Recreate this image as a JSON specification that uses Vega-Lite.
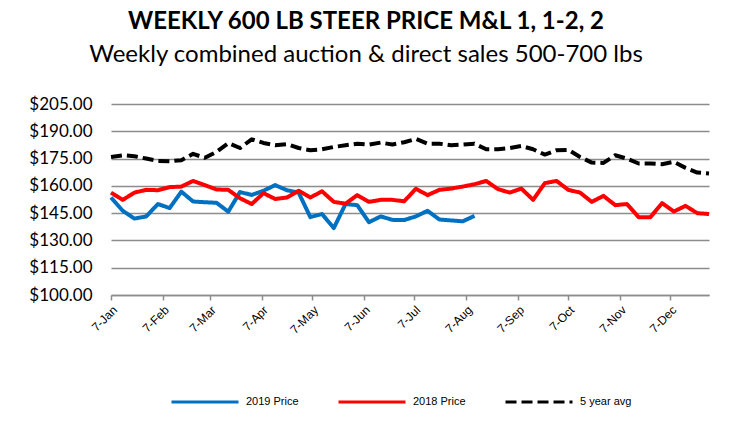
{
  "$schema": "https://vega.github.io/schema/vega-lite/v6.json",
  "autosize": "none",
  "width": 598,
  "height": 191,
  "padding": {"left": 111, "top": 104, "right": 34, "bottom": 132},
  "background": "white",
  "title": {
    "text": "WEEKLY 600 LB STEER PRICE M&L 1, 1-2, 2",
    "subtitle": "Weekly combined auction & direct sales 500-700 lbs",
    "anchor": "middle",
    "frame": "group",
    "dx": -44,
    "offset": 28,
    "font": "Lato",
    "fontSize": 24,
    "fontWeight": "bold",
    "color": "black",
    "subtitleFont": "Lato",
    "subtitleFontSize": 24,
    "subtitleColor": "black",
    "subtitlePadding": 9
  },
  "data": {
    "values": [
      {"week": "2019-01-07", "2019 Price": 153.6, "2018 Price": 156.3, "5 year avg": 175.9},
      {"week": "2019-01-14", "2019 Price": 146.3, "2018 Price": 152.3, "5 year avg": 176.8},
      {"week": "2019-01-21", "2019 Price": 142.0, "2018 Price": 156.3, "5 year avg": 176.3},
      {"week": "2019-01-28", "2019 Price": 143.2, "2018 Price": 157.8, "5 year avg": 175.0},
      {"week": "2019-02-04", "2019 Price": 150.0, "2018 Price": 157.6, "5 year avg": 173.7},
      {"week": "2019-02-11", "2019 Price": 147.8, "2018 Price": 159.3, "5 year avg": 173.5},
      {"week": "2019-02-18", "2019 Price": 156.8, "2018 Price": 159.6, "5 year avg": 174.1},
      {"week": "2019-02-25", "2019 Price": 151.4, "2018 Price": 162.7, "5 year avg": 177.6},
      {"week": "2019-03-04", "2019 Price": 151.0, "2018 Price": 160.4, "5 year avg": 175.4},
      {"week": "2019-03-11", "2019 Price": 150.7, "2018 Price": 158.0, "5 year avg": 178.7},
      {"week": "2019-03-18", "2019 Price": 145.8, "2018 Price": 157.8, "5 year avg": 183.5},
      {"week": "2019-03-25", "2019 Price": 156.6, "2018 Price": 153.2, "5 year avg": 180.8},
      {"week": "2019-04-01", "2019 Price": 155.0, "2018 Price": 150.0, "5 year avg": 185.6},
      {"week": "2019-04-08", "2019 Price": 157.3, "2018 Price": 156.0, "5 year avg": 183.6},
      {"week": "2019-04-15", "2019 Price": 160.4, "2018 Price": 152.8, "5 year avg": 182.3},
      {"week": "2019-04-22", "2019 Price": 157.6, "2018 Price": 153.6, "5 year avg": 182.9},
      {"week": "2019-04-29", "2019 Price": 156.3, "2018 Price": 157.3, "5 year avg": 180.8},
      {"week": "2019-05-06", "2019 Price": 142.8, "2018 Price": 153.6, "5 year avg": 179.6},
      {"week": "2019-05-13", "2019 Price": 144.5, "2018 Price": 157.0, "5 year avg": 180.1},
      {"week": "2019-05-20", "2019 Price": 136.8, "2018 Price": 151.2, "5 year avg": 181.4},
      {"week": "2019-05-27", "2019 Price": 150.0, "2018 Price": 150.2, "5 year avg": 182.3},
      {"week": "2019-06-03", "2019 Price": 149.4, "2018 Price": 154.9, "5 year avg": 183.2},
      {"week": "2019-06-10", "2019 Price": 140.0, "2018 Price": 151.2, "5 year avg": 182.7},
      {"week": "2019-06-17", "2019 Price": 143.2, "2018 Price": 152.3, "5 year avg": 183.8},
      {"week": "2019-06-24", "2019 Price": 141.3, "2018 Price": 152.3, "5 year avg": 182.7},
      {"week": "2019-07-01", "2019 Price": 141.2, "2018 Price": 151.5, "5 year avg": 184.0},
      {"week": "2019-07-08", "2019 Price": 143.2, "2018 Price": 158.4, "5 year avg": 185.8},
      {"week": "2019-07-15", "2019 Price": 146.3, "2018 Price": 154.9, "5 year avg": 183.2},
      {"week": "2019-07-22", "2019 Price": 141.5, "2018 Price": 157.8, "5 year avg": 183.2},
      {"week": "2019-07-29", "2019 Price": 141.0, "2018 Price": 158.5, "5 year avg": 182.3},
      {"week": "2019-08-05", "2019 Price": 140.5, "2018 Price": 159.6, "5 year avg": 182.7},
      {"week": "2019-08-12", "2019 Price": 143.5, "2018 Price": 160.9, "5 year avg": 183.2},
      {"week": "2019-08-19", "2019 Price": null, "2018 Price": 162.7, "5 year avg": 180.1},
      {"week": "2019-08-26", "2019 Price": null, "2018 Price": 158.2, "5 year avg": 180.1},
      {"week": "2019-09-02", "2019 Price": null, "2018 Price": 156.3, "5 year avg": 180.8},
      {"week": "2019-09-09", "2019 Price": null, "2018 Price": 158.5, "5 year avg": 181.9},
      {"week": "2019-09-16", "2019 Price": null, "2018 Price": 152.3, "5 year avg": 180.1},
      {"week": "2019-09-23", "2019 Price": null, "2018 Price": 161.5, "5 year avg": 177.2},
      {"week": "2019-09-30", "2019 Price": null, "2018 Price": 162.7, "5 year avg": 179.6},
      {"week": "2019-10-07", "2019 Price": null, "2018 Price": 157.8, "5 year avg": 179.8},
      {"week": "2019-10-14", "2019 Price": null, "2018 Price": 156.3, "5 year avg": 175.9},
      {"week": "2019-10-21", "2019 Price": null, "2018 Price": 151.2, "5 year avg": 172.8},
      {"week": "2019-10-28", "2019 Price": null, "2018 Price": 154.5, "5 year avg": 172.6},
      {"week": "2019-11-04", "2019 Price": null, "2018 Price": 149.4, "5 year avg": 176.8},
      {"week": "2019-11-11", "2019 Price": null, "2018 Price": 150.0, "5 year avg": 175.0},
      {"week": "2019-11-18", "2019 Price": null, "2018 Price": 142.8, "5 year avg": 172.3},
      {"week": "2019-11-25", "2019 Price": null, "2018 Price": 142.8, "5 year avg": 172.3},
      {"week": "2019-12-02", "2019 Price": null, "2018 Price": 150.5, "5 year avg": 171.9},
      {"week": "2019-12-09", "2019 Price": null, "2018 Price": 145.9, "5 year avg": 173.2},
      {"week": "2019-12-16", "2019 Price": null, "2018 Price": 149.0, "5 year avg": 169.9},
      {"week": "2019-12-23", "2019 Price": null, "2018 Price": 145.0, "5 year avg": 167.3},
      {"week": "2019-12-30", "2019 Price": null, "2018 Price": 144.5, "5 year avg": 166.8}
    ]
  },
  "transform": [
    {"fold": ["2019 Price", "2018 Price", "5 year avg"], "as": ["series", "price"]},
    {"filter": "isValid(datum.price)"}
  ],
  "mark": {"type": "line", "strokeWidth": 4, "strokeJoin": "round", "strokeCap": "butt"},
  "encoding": {
    "x": {
      "field": "week",
      "type": "temporal",
      "scale": {"type": "utc", "nice": false},
      "axis": {
        "title": null,
        "format": "%-d-%b",
        "values": [
          {"year": 2019, "month": 1, "date": 7, "utc": true},
          {"year": 2019, "month": 2, "date": 7, "utc": true},
          {"year": 2019, "month": 3, "date": 7, "utc": true},
          {"year": 2019, "month": 4, "date": 7, "utc": true},
          {"year": 2019, "month": 5, "date": 7, "utc": true},
          {"year": 2019, "month": 6, "date": 7, "utc": true},
          {"year": 2019, "month": 7, "date": 7, "utc": true},
          {"year": 2019, "month": 8, "date": 7, "utc": true},
          {"year": 2019, "month": 9, "date": 7, "utc": true},
          {"year": 2019, "month": 10, "date": 7, "utc": true},
          {"year": 2019, "month": 11, "date": 7, "utc": true},
          {"year": 2019, "month": 12, "date": 7, "utc": true}
        ],
        "labelAngle": -45,
        "labelFont": "Liberation Sans",
        "labelFontSize": 12,
        "labelColor": "black",
        "labelPadding": 4,
        "labelOverlap": false,
        "labelFlush": false,
        "grid": false,
        "domain": true,
        "domainColor": "#8c8c8c",
        "domainWidth": 1.5,
        "ticks": true,
        "tickColor": "#8c8c8c",
        "tickSize": 5,
        "tickWidth": 1.5
      }
    },
    "y": {
      "field": "price",
      "type": "quantitative",
      "scale": {"domain": [100, 205], "nice": false, "zero": false},
      "axis": {
        "title": null,
        "values": [100, 115, 130, 145, 160, 175, 190, 205],
        "format": "$.2f",
        "labelFont": "Lato",
        "labelFontSize": 17,
        "labelColor": "black",
        "labelPadding": 19,
        "domain": false,
        "ticks": false,
        "grid": true,
        "gridColor": "#8c8c8c",
        "gridWidth": 1.5
      }
    },
    "color": {
      "field": "series",
      "type": "nominal",
      "scale": {"domain": ["2019 Price", "2018 Price", "5 year avg"], "range": ["#0070C0", "#FF0000", "#000000"]},
      "legend": {
        "title": null,
        "orient": "none",
        "legendX": 59,
        "legendY": 263,
        "direction": "horizontal",
        "symbolType": "stroke",
        "symbolSize": 4489,
        "symbolStrokeWidth": 3,
        "labelFont": "Liberation Sans",
        "labelFontSize": 11,
        "labelColor": "black",
        "labelOffset": 6,
        "columnPadding": 33
      }
    },
    "strokeDash": {
      "field": "series",
      "type": "nominal",
      "scale": {"domain": ["2019 Price", "2018 Price", "5 year avg"], "range": [[1, 0], [1, 0], [11, 5]]},
      "legend": {
        "title": null,
        "orient": "none",
        "legendX": 59,
        "legendY": 263,
        "direction": "horizontal",
        "symbolType": "stroke",
        "symbolSize": 4489,
        "symbolStrokeWidth": 3,
        "labelFont": "Liberation Sans",
        "labelFontSize": 11,
        "labelColor": "black",
        "labelOffset": 6,
        "columnPadding": 33
      }
    }
  },
  "config": {
    "view": {"stroke": null}
  }
}
